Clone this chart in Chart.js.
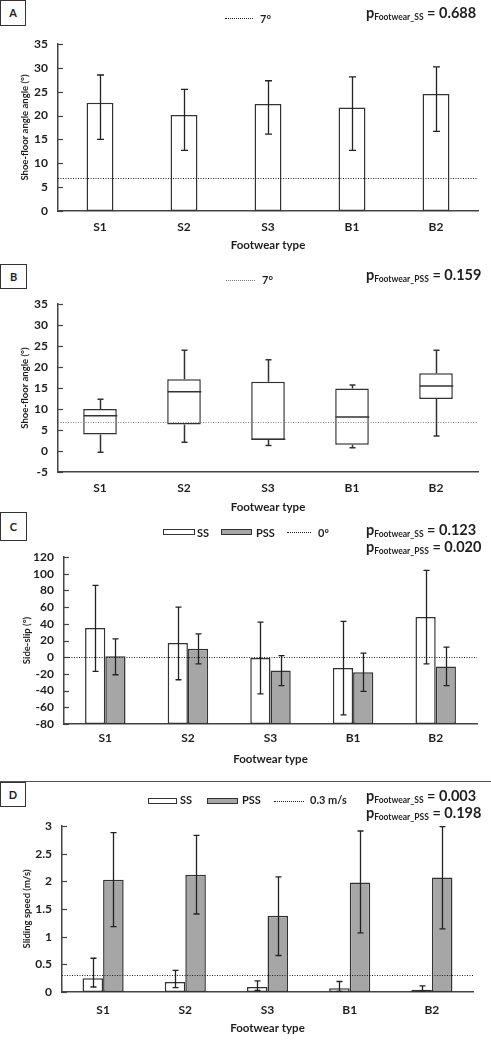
<!DOCTYPE html>
<html>
<head>
<meta charset="utf-8">
<script src="https://cdn.jsdelivr.net/npm/chart.js@4.4.0/dist/chart.umd.min.js"></script>
<style>
  body { margin: 0; background: #fff; width: 491px; height: 1049px; position: relative; overflow: hidden;
         font-family: Lato, sans-serif; font-weight: bold; color: #1e1e1e; }
  canvas { position: absolute; left: 0; }
  .tag { position: absolute; left: 0; border: 1px solid #333; box-sizing: border-box; font-size: 11px;
         text-align: center; background: #fff; }
  .leg { position: absolute; font-size: 11px; line-height: 13px; white-space: nowrap; }
  .dot { position: absolute; height: 0; border-top: 1px dotted #222; }
  .sw { position: absolute; height: 6px; border: 1px solid #333; box-sizing: border-box; }
  .pv { position: absolute; left: 366px; font-size: 14.5px; line-height: 17px; white-space: nowrap; }
  .pv sub { font-size: 8.5px; vertical-align: baseline; position: relative; top: 2px; }
  .rule { position: absolute; left: 0; top: 781px; width: 491px; border-top: 1px solid #555; }
</style>
</head>
<body>
<canvas id="chartA" width="491" height="262" style="top:0px"></canvas>
<canvas id="chartB" width="491" height="262" style="top:262px"></canvas>
<canvas id="chartC" width="491" height="262" style="top:520px"></canvas>
<canvas id="chartD" width="491" height="262" style="top:787px"></canvas>

<div class="rule"></div>

<!-- panel A -->
<div class="tag" style="top:0;width:26px;height:26px;line-height:24px">A</div>
<div class="dot" style="left:225px;top:18px;width:28px"></div>
<div class="leg" style="left:260px;top:12px">7°</div>
<div class="pv" style="top:4px">p<sub>Footwear_SS</sub> = 0.688</div>

<!-- panel B -->
<div class="tag" style="top:264px;width:27px;height:25px;line-height:23px">B</div>
<div class="dot" style="left:226px;top:280px;width:29px;border-color:#777"></div>
<div class="leg" style="left:262px;top:273px">7°</div>
<div class="pv" style="top:266px">p<sub>Footwear_PSS</sub> = 0.159</div>

<!-- panel C -->
<div class="tag" style="top:512px;width:27px;height:29px;line-height:27px">C</div>
<div class="sw" style="left:163px;top:529px;width:32px;background:#fff"></div>
<div class="leg" style="left:197px;top:526px">SS</div>
<div class="sw" style="left:221px;top:529px;width:31px;background:#a6a6a6"></div>
<div class="leg" style="left:256px;top:526px">PSS</div>
<div class="dot" style="left:287px;top:532px;width:24px"></div>
<div class="leg" style="left:318px;top:526px">0º</div>
<div class="pv" style="top:521px">p<sub>Footwear_SS</sub> = 0.123</div>
<div class="pv" style="top:538px">p<sub>Footwear_PSS</sub> = 0.020</div>

<!-- panel D -->
<div class="tag" style="top:782px;width:26px;height:25px;line-height:23px">D</div>
<div class="sw" style="left:148px;top:798px;width:29px;background:#fff"></div>
<div class="leg" style="left:180px;top:793px">SS</div>
<div class="sw" style="left:207px;top:798px;width:31px;background:#a6a6a6"></div>
<div class="leg" style="left:242px;top:793px">PSS</div>
<div class="dot" style="left:274px;top:801px;width:30px"></div>
<div class="leg" style="left:310px;top:793px">0.3 m/s</div>
<div class="pv" style="top:787px">p<sub>Footwear_SS</sub> = 0.003</div>
<div class="pv" style="top:804px">p<sub>Footwear_PSS</sub> = 0.198</div>

<script>
// ---- data ----
const footwear = ["S1", "S2", "S3", "B1", "B2"];

// A: shoe-floor angle at slip start (mean, error bar ends)
const angleSS = [22.7, 20.1, 22.4, 21.7, 24.5];
const angleSSLow = [15.0, 12.7, 16.1, 12.7, 16.7];
const angleSSHigh = [28.5, 25.5, 27.3, 28.1, 30.2];
const angleRef = 7;

// B: shoe-floor angle at peak sliding speed (box plot)
const boxMin = [-0.3, 2.1, 1.3, 0.8, 3.6];
const boxQ1 = [3.9, 6.3, 2.6, 1.5, 12.4];
const boxMedian = [8.4, 14.1, 2.8, 8.1, 15.5];
const boxQ3 = [10.0, 17.1, 16.5, 14.9, 18.5];
const boxMax = [12.3, 24.0, 21.7, 15.7, 24.0];

// C: side-slip
const sideSlipSS = [35, 17, -1, -13, 48];
const sideSlipSSLow = [-17, -27, -44, -69, -8];
const sideSlipSSHigh = [86, 60, 42, 43, 104];
const sideSlipPSS = [1, 10, -16, -18, -11];
const sideSlipPSSLow = [-21, -8, -34, -41, -34];
const sideSlipPSSHigh = [22, 28, 2, 5, 12];
const sideSlipRef = 0;

// D: sliding speed
const speedSS = [0.25, 0.18, 0.09, 0.07, 0.04];
const speedSSLow = [0.09, 0.08, 0.03, 0.01, 0.02];
const speedSSHigh = [0.61, 0.39, 0.20, 0.19, 0.11];
const speedPSS = [2.03, 2.12, 1.38, 1.98, 2.07];
const speedPSSLow = [1.18, 1.41, 0.66, 1.07, 1.14];
const speedPSSHigh = [2.88, 2.83, 2.08, 2.91, 2.99];
const speedRef = 0.3;

const GREY = "#a6a6a6";
const EDGE = "#333";
const TEXT = "#1e1e1e";

/**
 * Dotted horizontal reference line across the plot area
 */
function refLine(value, color) {
  return {
    id: "refLine",
    afterDatasetsDraw(chart) {
      const { ctx, chartArea } = chart;
      const y = Math.round(chart.scales.y.getPixelForValue(value)) + 0.5;
      ctx.save();
      ctx.strokeStyle = color;
      ctx.lineWidth = 1;
      ctx.setLineDash([1, 1.5]);
      ctx.beginPath();
      ctx.moveTo(chartArea.left, y);
      ctx.lineTo(chartArea.right, y);
      ctx.stroke();
      ctx.restore();
    },
  };
}

/**
 * Error bars from errLow / errHigh on each dataset
 */
function errorBars(capHalf) {
  return {
    id: "errorBars",
    afterDatasetsDraw(chart) {
      const ctx = chart.ctx;
      const yScale = chart.scales.y;
      ctx.save();
      ctx.strokeStyle = "#222";
      ctx.lineWidth = 1.3;
      chart.data.datasets.forEach((ds, d) => {
        if (!ds.errLow) return;
        chart.getDatasetMeta(d).data.forEach((bar, i) => {
          const x = Math.round(bar.x) + 0.5;
          const y1 = yScale.getPixelForValue(ds.errLow[i]);
          const y2 = yScale.getPixelForValue(ds.errHigh[i]);
          ctx.beginPath();
          ctx.moveTo(x, y1);
          ctx.lineTo(x, y2);
          ctx.moveTo(x - capHalf, y1);
          ctx.lineTo(x + capHalf, y1);
          ctx.moveTo(x - capHalf, y2);
          ctx.lineTo(x + capHalf, y2);
          ctx.stroke();
        });
      });
      ctx.restore();
    },
  };
}

// whiskers and median for the box plot in panel B
const boxWhiskers = {
  id: "boxWhiskers",
  afterDatasetsDraw(chart) {
    const ctx = chart.ctx;
    const yScale = chart.scales.y;
    ctx.save();
    ctx.strokeStyle = EDGE;
    ctx.lineWidth = 1.5;
    chart.getDatasetMeta(0).data.forEach((bar, i) => {
      const x = Math.round(bar.x) + 0.5;
      const hw = bar.width / 2;
      const yMin = yScale.getPixelForValue(boxMin[i]);
      const yQ1 = yScale.getPixelForValue(boxQ1[i]);
      const yMed = yScale.getPixelForValue(boxMedian[i]);
      const yQ3 = yScale.getPixelForValue(boxQ3[i]);
      const yMax = yScale.getPixelForValue(boxMax[i]);
      ctx.beginPath();
      ctx.moveTo(x, yQ3);
      ctx.lineTo(x, yMax);
      ctx.moveTo(x - 3, yMax);
      ctx.lineTo(x + 3, yMax);
      ctx.moveTo(x, yQ1);
      ctx.lineTo(x, yMin);
      ctx.moveTo(x - 3, yMin);
      ctx.lineTo(x + 3, yMin);
      ctx.moveTo(x - hw, yMed);
      ctx.lineTo(x + hw, yMed);
      ctx.stroke();
    });
    ctx.restore();
  },
};

// small tick marks pointing into the plot
const innerTicks = {
  id: "innerTicks",
  afterDraw(chart) {
    const ctx = chart.ctx;
    const yScale = chart.scales.y;
    const left = chart.chartArea.left;
    ctx.save();
    ctx.strokeStyle = "#444";
    ctx.lineWidth = 1.2;
    yScale.ticks.forEach((t, i) => {
      const py = Math.round(yScale.getPixelForTick(i)) + 0.5;
      ctx.beginPath();
      ctx.moveTo(left, py);
      ctx.lineTo(left + 5, py);
      ctx.stroke();
    });
    ctx.restore();
  },
};

/**
 * Shared options; box = plot area inside the canvas
 */
function makeOptions(box, yCfg) {
  return {
    responsive: false,
    animation: false,
    layout: { padding: { top: box.top, right: 491 - box.right, left: 0, bottom: 0 } },
    plugins: { legend: { display: false }, tooltip: { enabled: false } },
    scales: {
      x: {
        grid: { display: false, drawTicks: false },
        border: { display: true, color: "#444", width: 1.5 },
        ticks: { color: TEXT, padding: box.xPad, font: { family: "Lato", weight: "bold", size: 12 } },
        title: {
          display: true,
          text: "Footwear type",
          color: TEXT,
          padding: { top: 0, bottom: box.titlePad },
          font: { family: "Lato", weight: "bold", size: 11.5 },
        },
        afterFit(s) { s.height = box.canvasH - box.bottom; },
      },
      y: {
        min: yCfg.min,
        max: yCfg.max,
        grid: { display: false, drawTicks: false },
        border: { display: true, color: "#444", width: 1.5 },
        ticks: {
          stepSize: yCfg.step,
          autoSkip: false,
          color: TEXT,
          padding: 10,
          font: { family: "Lato", weight: "bold", size: 12 },
          callback: (v) => String(Math.round(v * 100) / 100),
        },
        title: {
          display: true,
          text: yCfg.title,
          color: TEXT,
          padding: { top: box.titleX - 6, bottom: 0 },
          font: { family: "Lato", weight: "bold", size: 9.5 },
        },
        afterFit(s) { s.width = box.left; },
      },
    },
  };
}

// Panel A
new Chart(document.getElementById("chartA"), {
  type: "bar",
  data: {
    labels: footwear,
    datasets: [{
      data: angleSS,
      errLow: angleSSLow,
      errHigh: angleSSHigh,
      backgroundColor: "#fff",
      borderColor: EDGE,
      borderWidth: 1.5,
      borderSkipped: false,
      barPercentage: 0.32,
      categoryPercentage: 1,
    }],
  },
  options: makeOptions(
    { top: 44, bottom: 211, left: 58, right: 478, canvasH: 262, xPad: 9, titlePad: 10, titleX: 25 },
    { min: 0, max: 35, step: 5, title: "Shoe-floor angle angle (°)" }
  ),
  plugins: [refLine(angleRef, "#222"), errorBars(3.5), innerTicks],
});

// Panel B
new Chart(document.getElementById("chartB"), {
  type: "bar",
  data: {
    labels: footwear,
    datasets: [{
      data: footwear.map((f, i) => [boxQ1[i], boxQ3[i]]),
      backgroundColor: "#fff",
      borderColor: EDGE,
      borderWidth: 1.5,
      borderSkipped: false,
      barPercentage: 0.4,
      categoryPercentage: 1,
    }],
  },
  options: makeOptions(
    { top: 42, bottom: 210, left: 58, right: 478, canvasH: 262, xPad: 9, titlePad: 10, titleX: 25 },
    { min: -5, max: 35, step: 5, title: "Shoe-floor angle (°)" }
  ),
  plugins: [refLine(angleRef, "#888"), boxWhiskers, innerTicks],
});

// Panel C
new Chart(document.getElementById("chartC"), {
  type: "bar",
  data: {
    labels: footwear,
    datasets: [
      {
        label: "SS",
        data: sideSlipSS,
        errLow: sideSlipSSLow,
        errHigh: sideSlipSSHigh,
        base: -80,
        backgroundColor: "#fff",
        borderColor: EDGE,
        borderWidth: 1.5,
        borderSkipped: false,
        barPercentage: 1,
        categoryPercentage: 0.49,
      },
      {
        label: "PSS",
        data: sideSlipPSS,
        errLow: sideSlipPSSLow,
        errHigh: sideSlipPSSHigh,
        base: -80,
        backgroundColor: GREY,
        borderColor: EDGE,
        borderWidth: 1.5,
        borderSkipped: false,
        barPercentage: 1,
        categoryPercentage: 0.49,
      },
    ],
  },
  options: makeOptions(
    { top: 37, bottom: 204, left: 64, right: 477, canvasH: 262, xPad: 7, titlePad: 16, titleX: 27 },
    { min: -80, max: 120, step: 20, title: "Side-slip (°)" }
  ),
  plugins: [refLine(sideSlipRef, "#222"), errorBars(3), innerTicks],
});

// Panel D
new Chart(document.getElementById("chartD"), {
  type: "bar",
  data: {
    labels: footwear,
    datasets: [
      {
        label: "SS",
        data: speedSS,
        errLow: speedSSLow,
        errHigh: speedSSHigh,
        backgroundColor: "#fff",
        borderColor: EDGE,
        borderWidth: 1.5,
        borderSkipped: false,
        barPercentage: 1,
        categoryPercentage: 0.5,
      },
      {
        label: "PSS",
        data: speedPSS,
        errLow: speedPSSLow,
        errHigh: speedPSSHigh,
        backgroundColor: GREY,
        borderColor: EDGE,
        borderWidth: 1.5,
        borderSkipped: false,
        barPercentage: 1,
        categoryPercentage: 0.5,
      },
    ],
  },
  options: makeOptions(
    { top: 39, bottom: 205, left: 62, right: 473, canvasH: 262, xPad: 11, titlePad: 14, titleX: 27 },
    { min: 0, max: 3, step: 0.5, title: "Sliding speed (m/s)" }
  ),
  plugins: [refLine(speedRef, "#222"), errorBars(3), innerTicks],
});
</script>
</body>
</html>
